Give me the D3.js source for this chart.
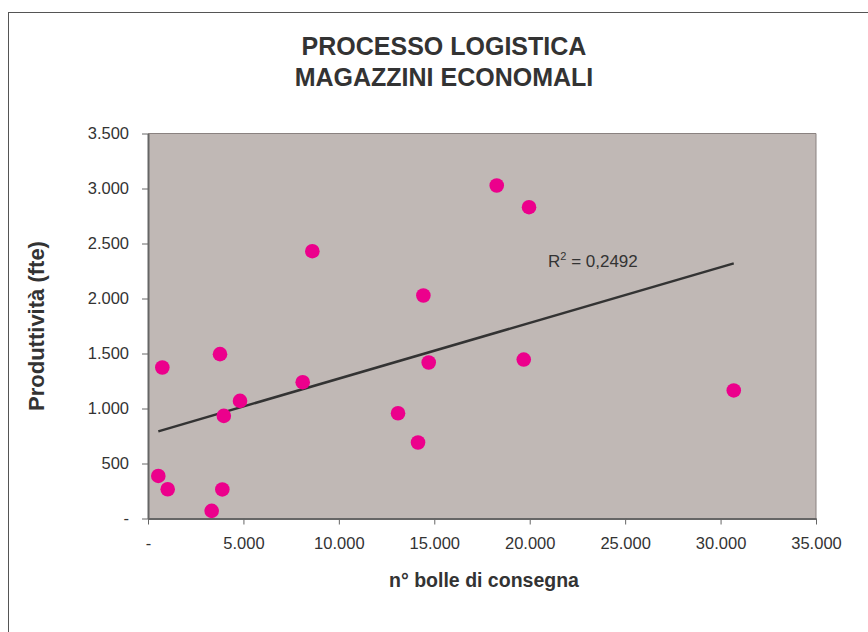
<!DOCTYPE html>
<html><head><meta charset="utf-8">
<script src="https://cdn.jsdelivr.net/npm/d3@7"></script>
<style>body{margin:0;background:#fff}svg{display:block}text{font-family:"Liberation Sans",Arial,sans-serif}</style>
</head><body>
<script>
const titleLines = ["PROCESSO LOGISTICA", "MAGAZZINI ECONOMALI"];
const xLabel = "n° bolle di consegna";
const yLabel = "Produttività (fte)";
const bolle = [750, 3773, 4821, 3972, 8106, 540, 1032, 3894, 3336, 14428, 14708, 19687, 13100, 14148, 18272, 19964, 8610, 30691];
const produttivita = [1373, 1494, 1069, 933, 1239, 387, 266, 264, 69, 2027, 1418, 1445, 957, 691, 3027, 2830, 2430, 1164];
const xTicks = [0, 5000, 10000, 15000, 20000, 25000, 30000, 35000];
const yTicks = [0, 500, 1000, 1500, 2000, 2500, 3000, 3500];
const r2Label = "0,2492";

const W = 868, H = 632;
const svg = d3.select("body").append("svg").attr("width", W).attr("height", H);
svg.append("rect").attr("x", 8.5).attr("y", 12.5).attr("width", 900).attr("height", 700)
  .attr("fill", "#fff").attr("stroke", "#555").attr("stroke-width", 1);

const L = 148, R = 816, T = 133.5, B = 518.5;
const x = d3.scaleLinear().domain([0, 35000]).range([L, R]);
const y = d3.scaleLinear().domain([0, 3500]).range([B, T]);
const fmt = v => v === 0 ? "-" : d3.format(",")(v).replace(/,/g, ".");

svg.append("rect").attr("x", L).attr("y", T).attr("width", R - L).attr("height", B - T)
  .attr("fill", "#c0b8b5");
svg.append("line").attr("x1", L).attr("x2", R).attr("y1", T).attr("y2", T).attr("stroke", "#8a8280").attr("stroke-width", 1);
svg.append("line").attr("x1", R).attr("x2", R).attr("y1", T).attr("y2", B).attr("stroke", "#8a8280").attr("stroke-width", 1);

const xa = svg.append("g").attr("transform", `translate(0,${B})`)
  .call(d3.axisBottom(x).tickValues(xTicks).tickFormat(fmt).tickSize(6).tickPadding(13).tickSizeOuter(0));
const ya = svg.append("g").attr("transform", `translate(${L},0)`)
  .call(d3.axisLeft(y).tickValues(yTicks).tickFormat(fmt).tickSize(6).tickPadding(13).tickSizeOuter(0));
[xa, ya].forEach(a => {
  a.select(".domain").attr("stroke", "#666").attr("stroke-width", 2);
  a.selectAll(".tick line").attr("stroke", "#666");
  a.selectAll(".tick text").attr("fill", "#333").style("font-size", "16.5px").style("font-family", "'Liberation Sans',Arial,sans-serif");
});

// regression
const n = bolle.length;
const mx = d3.mean(bolle), my = d3.mean(produttivita);
let sxy = 0, sxx = 0;
for (let i = 0; i < n; i++) { sxy += (bolle[i] - mx) * (produttivita[i] - my); sxx += (bolle[i] - mx) ** 2; }
const slope = sxy / sxx, icpt = my - slope * mx;
const x0 = d3.min(bolle), x1 = d3.max(bolle);
svg.append("line").attr("x1", x(x0)).attr("y1", y(icpt + slope * x0))
  .attr("x2", x(x1)).attr("y2", y(icpt + slope * x1))
  .attr("stroke", "#333").attr("stroke-width", 2.5);

svg.append("g").selectAll("circle").data(bolle).join("circle")
  .attr("cx", d => x(d)).attr("cy", (d, i) => y(produttivita[i])).attr("r", 7.3)
  .attr("fill", "#ec008c");

const rt = svg.append("text").attr("x", 548).attr("y", 267).attr("fill", "#333").style("font-size", "17px");
rt.append("tspan").text("R");
rt.append("tspan").attr("dy", -7).style("font-size", "11px").text("2");
rt.append("tspan").attr("dy", 7).text(" = " + r2Label);

svg.selectAll(".title").data(titleLines).join("text")
  .attr("x", 444).attr("y", (d, i) => 55 + i * 31).attr("text-anchor", "middle")
  .attr("fill", "#333").style("font-size", "25px").style("font-weight", "bold").text(d => d);

svg.append("text").attr("x", 484).attr("y", 587).attr("text-anchor", "middle")
  .attr("fill", "#333").style("font-size", "19.5px").style("font-weight", "bold").text(xLabel);
svg.append("text").attr("transform", "translate(44,326) rotate(-90)").attr("text-anchor", "middle")
  .attr("fill", "#333").style("font-size", "22px").style("font-weight", "bold").text(yLabel);
</script>
</body></html>
